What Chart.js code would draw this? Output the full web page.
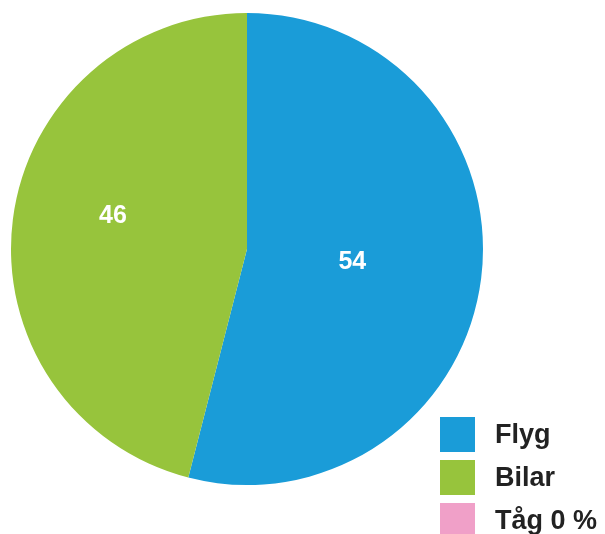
<!DOCTYPE html>
<html><head><meta charset="utf-8">
<script src="https://cdn.jsdelivr.net/npm/chart.js@4/dist/chart.umd.min.js"></script>
<style>
html,body{margin:0;padding:0;background:#fff;}
#wrap{position:relative;width:605px;height:534px;overflow:hidden;}
#c{position:absolute;left:0;top:0;}
#legend{position:absolute;left:440px;top:417px;font-family:"Liberation Sans",Arial,sans-serif;font-weight:bold;font-size:27px;color:#222;}
.item{display:flex;align-items:center;height:35px;margin-bottom:8px;}
.sw{width:35px;height:35px;margin-right:20px;flex:none;}
</style></head>
<body><div id="wrap"><canvas id="c" width="605" height="534"></canvas><div id="legend"></div></div>
<script>
const categories = ["Flyg", "Bilar", "Tåg"];
const values = [54, 46, 0];
const legendLabels = ["Flyg", "Bilar", "Tåg 0 %"];
const colors = ["#1a9cd8", "#97c43c", "#f0a0c8"];

const lg = document.getElementById('legend');
legendLabels.forEach((t,i)=>{
  const d=document.createElement('div');d.className='item';
  d.innerHTML='<div class="sw" style="background:'+colors[i]+'"></div><span>'+t+'</span>';
  lg.appendChild(d);
});

const labelPlugin = {
  id:'inLabels',
  afterDatasetsDraw(chart){
    const ctx=chart.ctx;
    const meta=chart.getDatasetMeta(0);
    const frac=[0.45,0.585,0.5];
    const nudge=[0,0.115,0];
    meta.data.forEach((arc,i)=>{
      const v=values[i]; if(!v) return;
      const p=arc.getProps(['x','y','startAngle','endAngle','outerRadius']);
      const a=(p.startAngle+p.endAngle)/2+nudge[i];
      const r=p.outerRadius*frac[i];
      ctx.save();
      ctx.fillStyle='#fff';
      ctx.font='bold 25px "Liberation Sans", Arial, sans-serif';
      ctx.textAlign='center';ctx.textBaseline='middle';
      ctx.fillText(String(v), p.x+Math.cos(a)*r, p.y+Math.sin(a)*r);
      ctx.restore();
    });
  }
};

new Chart(document.getElementById('c'),{
  type:'pie',
  data:{labels:categories,datasets:[{data:values,backgroundColor:colors,borderWidth:0}]},
  options:{
    responsive:false,animation:false,
    layout:{padding:{left:11,right:122,top:13,bottom:49}},
    plugins:{legend:{display:false},tooltip:{enabled:false}}
  },
  plugins:[labelPlugin]
});
</script></body></html>
